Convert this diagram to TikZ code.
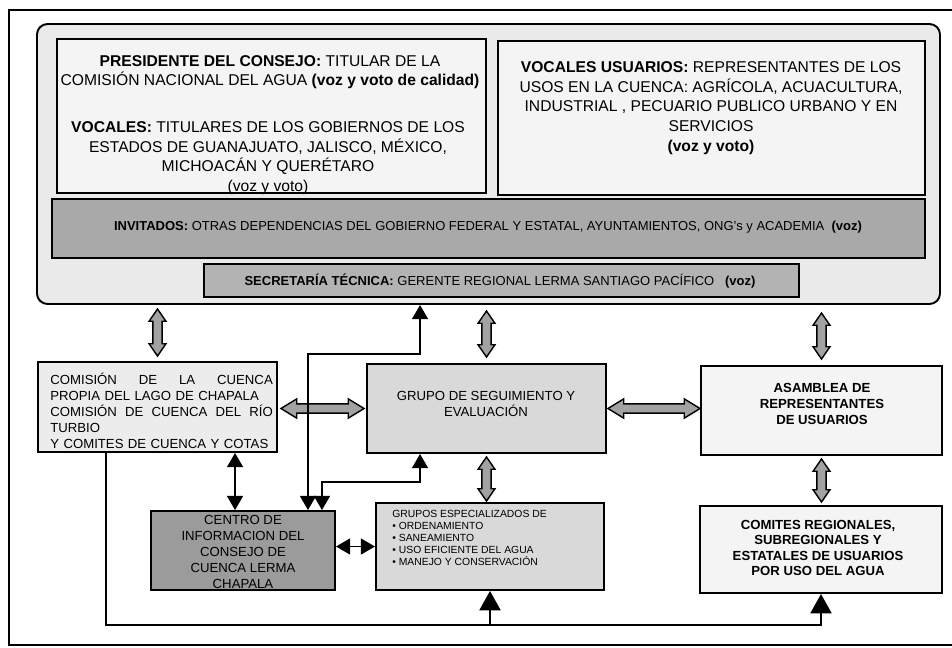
\documentclass[tikz,border=0pt]{standalone}
\usepackage{fontspec}
\setmainfont{Liberation Sans}
\usetikzlibrary{arrows.meta,calc,fit}

\definecolor{councilbg}{HTML}{EAEAEA}
\definecolor{paper}{HTML}{F4F4F4}
\definecolor{darkband}{HTML}{A9A9A9}
\definecolor{midband}{HTML}{B3B3B3}
\definecolor{lightbox}{HTML}{ECECEC}
\definecolor{greybox}{HTML}{D9D9D9}
\definecolor{centrofill}{HTML}{9B9B9B}
\definecolor{arrowgray}{HTML}{A2A2A2}

% fat grey double arrows, vertical (top, bottom) and horizontal (left, right)
\newcommand{\fatv}[2]{%
  \draw[fat] let \p1=(#1), \p2=(#2) in
    (\x1,\y1) -- (\x1+4.8pt,\y1-7pt) -- (\x1+2.6pt,\y1-7pt) -- (\x1+2.6pt,\y2+7pt)
    -- (\x1+4.8pt,\y2+7pt) -- (\x1,\y2) -- (\x1-4.8pt,\y2+7pt) -- (\x1-2.6pt,\y2+7pt)
    -- (\x1-2.6pt,\y1-7pt) -- (\x1-4.8pt,\y1-7pt) -- cycle;}
\newcommand{\fath}[2]{%
  \draw[fat] let \p1=(#1), \p2=(#2) in
    (\x1,\y1) -- (\x1+9pt,\y1+5.5pt) -- (\x1+9pt,\y1+2.6pt) -- (\x2-9pt,\y1+2.6pt)
    -- (\x2-9pt,\y1+5.5pt) -- (\x2,\y1) -- (\x2-9pt,\y1-5.5pt) -- (\x2-9pt,\y1-2.6pt)
    -- (\x1+9pt,\y1-2.6pt) -- (\x1+9pt,\y1-5.5pt) -- cycle;}

\begin{document}
\begin{tikzpicture}
  [x=0.02cm,y=-0.02cm,
   box/.style={draw,line width=1.1pt,inner sep=0pt},
   txt/.style={inner sep=0pt,align=center,font=\fontsize{7.5}{9.1}\selectfont},
   big/.style={txt,font=\fontsize{8.9}{11.2}\selectfont},
   band/.style={txt,font=\fontsize{7.4}{9}\selectfont},
   fat/.style={draw,line width=0.8pt,fill=arrowgray},
   link/.style={draw,line width=1pt},
   both/.style={link,{Triangle[width=9pt,length=8pt]}-{Triangle[width=9pt,length=8pt]}},
   tip/.style={link,-{Triangle[width=12pt,length=11pt]}}]
  \useasboundingbox (0,0) rectangle (952,647);
  \draw[line width=1pt] (952,10) -- (9,10) -- (9,645) -- (952,645);

  % consejo
  \node[box,fill=councilbg,rounded corners=6pt,fit={(37,24) (940,304)}] (consejo) {};
  \node[box,fill=paper,fit={(57,39) (486,193)}] (pres) {};
  \node[box,fill=paper,fit={(498,41) (925,195)}] (usu) {};
  \node[box,fill=darkband,fit={(52,199) (925,258)}] (inv) {};
  \node[box,fill=midband,fit={(204,264) (799,297)}] (sec) {};

  \node[big] (presT) at (270,72) {\textbf{PRESIDENTE DEL CONSEJO:} TITULAR DE LA\\
    COMISIÓN NACIONAL DEL AGUA \textbf{(voz y voto de calidad)}};
  \node[big] (vocT) at (268,158) {\textbf{VOCALES:} TITULARES DE LOS GOBIERNOS DE LOS\\
    ESTADOS DE GUANAJUATO, JALISCO, MÉXICO,\\MICHOACÁN Y QUERÉTARO\\(voz y voto)};
  \node[big] (usuT) at (711,108) {\textbf{VOCALES USUARIOS:} REPRESENTANTES DE LOS\\
    USOS EN LA CUENCA: AGRÍCOLA, ACUACULTURA,\\INDUSTRIAL , PECUARIO PUBLICO URBANO Y EN\\
    SERVICIOS\\\textbf{(voz y voto)}};
  \node[band] (invT) at (488,227) {\textbf{INVITADOS:} OTRAS DEPENDENCIAS DEL GOBIERNO FEDERAL
    Y ESTATAL, AYUNTAMIENTOS, ONG's y ACADEMIA \ \textbf{(voz)}};
  \node[band] (secT) at (500,281) {\textbf{SECRETARÍA TÉCNICA:} GERENTE REGIONAL LERMA
    SANTIAGO PACÍFICO \ \ \textbf{(voz)}};

  % organos
  \node[box,fill=lightbox,fit={(38,362) (277,452)}] (comision) {};
  \node[box,fill=greybox,fit={(367,364) (606,453)}] (gse) {};
  \node[box,fill=paper,fit={(701,366) (942,455)}] (asam) {};
  \node[box,fill=centrofill,fit={(151,511) (335,590)}] (centro) {};
  \node[box,fill=greybox,fit={(376,503) (604,590)}] (gesp) {};
  \node[box,fill=paper,fit={(700,506) (942,593)}] (comites) {};

  \node[txt,anchor=west,align=left,text width=4.45cm] (comisionT) at (50,411)
    {COMISIÓN\hfill DE\hfill LA\hfill CUENCA\\PROPIA DEL LAGO DE CHAPALA\\
     COMISIÓN\hfill DE\hfill CUENCA\hfill DEL\hfill RÍO\\TURBIO\\Y COMITES DE CUENCA Y COTAS};
  \node[txt] (gseT) at (486,404) {GRUPO DE SEGUIMIENTO Y\\EVALUACIÓN};
  \node[txt,font=\bfseries\fontsize{7.5}{9.1}\selectfont] (asamT) at (822,404)
    {ASAMBLEA DE\\REPRESENTANTES\\DE USUARIOS};
  \node[txt,font=\bfseries\fontsize{7.5}{8.6}\selectfont] (comitesT) at (818,548)
    {COMITES REGIONALES,\\SUBREGIONALES Y\\ESTATALES DE USUARIOS\\POR USO DEL AGUA};
  \node[txt] (centroT) at (243,552) {CENTRO DE\\INFORMACION DEL\\CONSEJO DE\\CUENCA LERMA\\CHAPALA};
  \node[txt,anchor=west,align=left,font=\fontsize{5.9}{6.9}\selectfont] (gespT) at (392,538)
    {GRUPOS ESPECIALIZADOS DE\\• ORDENAMIENTO\\• SANEAMIENTO\\• USO EFICIENTE DEL AGUA\\
     • MANEJO Y CONSERVACIÓN};

  % flechas gruesas
  \fatv{$(consejo.south -| comision.north)+(0,4)$}{$(comision.north)+(0,-5)$}
  \fatv{$(consejo.south -| gse.north)+(0,6)$}{$(gse.north)+(0,-6)$}
  \fatv{$(consejo.south -| asam.north)+(0,8)$}{$(asam.north)+(0,-6)$}
  \fath{$(comision.east |- gse.west)+(3,0)$}{$(gse.west)+(-2,0)$}
  \fath{$(gse.east)+(1,0)$}{$(asam.west |- gse.east)$}
  \fatv{$(gse.south)+(0,3)$}{$(gesp.north -| gse.south)+(0,-1)$}
  \fatv{$(asam.south)+(0,3)$}{$(comites.north -| asam.south)+(0,-3)$}

  % lineas
  \coordinate (ja) at ($(gse.north west)+(54,-9)$);
  \coordinate (jb) at ($(gse.south west)+(54,28)$);
  \coordinate (cc) at ($(centro.north west)+(85,0)$);
  \coordinate (je) at ($(gesp.south)+(0,34)$);
  \draw[both] ($(centro.north east)+(-28,0)$) |- (ja) -- (ja |- consejo.south);
  \draw[both] ($(centro.north east)+(-14,0)$) |- (jb) -- (jb |- gse.south);
  \draw[both] (comision.south -| cc) -- (cc);
  \draw[both] (centro.east |- gesp.west) -- (gesp.west);
  \draw[tip] ($(comision.south west)+(69,0)$) |- (je) -| (comites.south);
  \draw[tip] (je) -- (gesp.south);

\end{tikzpicture}
\end{document}
